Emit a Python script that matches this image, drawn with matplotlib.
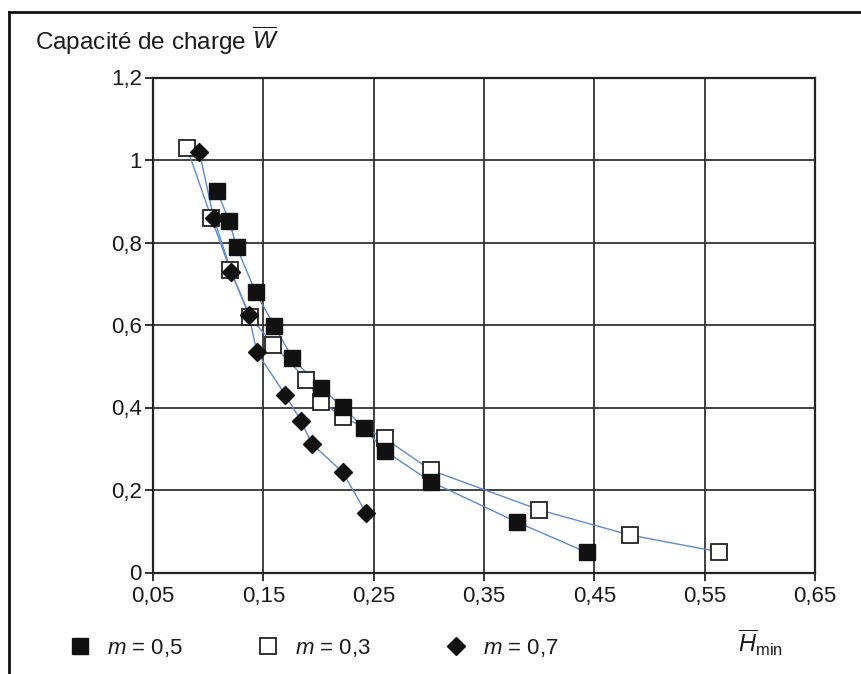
import matplotlib
matplotlib.use("Agg")
import matplotlib.pyplot as plt
from matplotlib.lines import Line2D

plt.rcParams['font.family'] = ['Liberation Sans', 'DejaVu Sans']
plt.rcParams['mathtext.fontset'] = 'custom'
plt.rcParams['mathtext.rm'] = 'Liberation Sans'
plt.rcParams['mathtext.it'] = 'Liberation Sans:italic'

# m = 0,5 (filled squares)
h_05 = [0.108, 0.119, 0.126, 0.143, 0.160, 0.176, 0.202, 0.222, 0.241, 0.260, 0.302, 0.380, 0.443]
w_05 = [0.925, 0.852, 0.788, 0.679, 0.598, 0.521, 0.447, 0.402, 0.350, 0.295, 0.220, 0.122, 0.049]

# m = 0,3 (open squares)
h_03 = [0.081, 0.103, 0.120, 0.138, 0.159, 0.189, 0.202, 0.222, 0.260, 0.302, 0.400, 0.482, 0.563]
w_03 = [1.028, 0.859, 0.733, 0.620, 0.552, 0.467, 0.414, 0.378, 0.325, 0.248, 0.152, 0.091, 0.050]

# m = 0,7 (diamonds)
h_07 = [0.092, 0.105, 0.121, 0.137, 0.144, 0.170, 0.184, 0.194, 0.222, 0.243]
w_07 = [1.020, 0.859, 0.729, 0.624, 0.535, 0.430, 0.368, 0.312, 0.243, 0.145]

xticks = [0.05, 0.15, 0.25, 0.35, 0.45, 0.55, 0.65]
xlabels = ['0,05', '0,15', '0,25', '0,35', '0,45', '0,55', '0,65']
yticks = [0, 0.2, 0.4, 0.6, 0.8, 1.0, 1.2]
ylabels = ['0', '0,2', '0,4', '0,6', '0,8', '1', '1,2']
legend_labels = ['$m$ = 0,5', '$m$ = 0,3', '$m$ = 0,7']

W, H = 862, 674
fig = plt.figure(figsize=(W / 100, H / 100), dpi=100)
ax = fig.add_axes([153 / W, 1 - 572.5 / H, (815 - 153) / W, (572.5 - 77.5) / H])

line_col = '#5b8ccc'
ax.plot(h_03, w_03, color=line_col, lw=1.0, zorder=2)
ax.plot(h_05, w_05, color=line_col, lw=1.0, zorder=2)
ax.plot(h_07, w_07, color=line_col, lw=1.0, zorder=2)
ax.plot(h_03, w_03, ls='none', marker='s', ms=11.5, mfc='white', mec='#222222', mew=1.3, zorder=3)
ax.plot(h_05, w_05, ls='none', marker='s', ms=11.5, mfc='#111111', mec='#111111', zorder=4)
ax.plot(h_07, w_07, ls='none', marker='D', ms=9, mfc='#111111', mec='#111111', zorder=5)

ax.set_xlim(0.05, 0.65)
ax.set_ylim(0, 1.2)
ax.set_xticks(xticks)
ax.set_xticklabels(xlabels)
ax.set_yticks(yticks)
ax.set_yticklabels(ylabels)
ax.tick_params(direction='out', length=6, width=1.3, color='#222222',
               labelsize=16, labelcolor='#1a1a1a')
ax.tick_params(axis='x', pad=4)
ax.tick_params(axis='y', pad=2)
ax.grid(True, color='#333333', lw=1.3, zorder=1)
ax.set_axisbelow(True)
for s in ax.spines.values():
    s.set_color('#222222')
    s.set_linewidth(1.6)

fig.text(35 / W, 1 - 50 / H, r'Capacité de charge $\overline{W}$', fontsize=17.5,
         color='#1a1a1a', ha='left', va='baseline')
fig.text(738 / W, 1 - 643 / H, r'$\overline{H}_{\mathrm{min}}$', fontsize=17,
         color='#1a1a1a', ha='left', va='center')

handles = [
    Line2D([], [], ls='none', marker='s', ms=11, mfc='#111111', mec='#111111'),
    Line2D([], [], ls='none', marker='s', ms=11, mfc='white', mec='#222222', mew=1.3),
    Line2D([], [], ls='none', marker='D', ms=9, mfc='#111111', mec='#111111'),
]
fig.legend(handles, legend_labels, ncol=3, loc='center left',
           bbox_to_anchor=(71 / W, 1 - 648 / H), bbox_transform=fig.transFigure,
           frameon=False, fontsize=16, handlelength=0.8, handletextpad=0.8,
           columnspacing=3.45, borderpad=0, borderaxespad=0, labelcolor='#1a1a1a')

# outer frame (top and left edges)
fig.add_artist(Line2D([9 / W, 1], [1 - 12 / H, 1 - 12 / H], color='#111111', lw=2,
                      transform=fig.transFigure))
fig.add_artist(Line2D([9 / W, 9 / W], [0, 1 - 12 / H], color='#111111', lw=2,
                      transform=fig.transFigure))

fig.savefig('out.png', dpi=100, facecolor='white')
